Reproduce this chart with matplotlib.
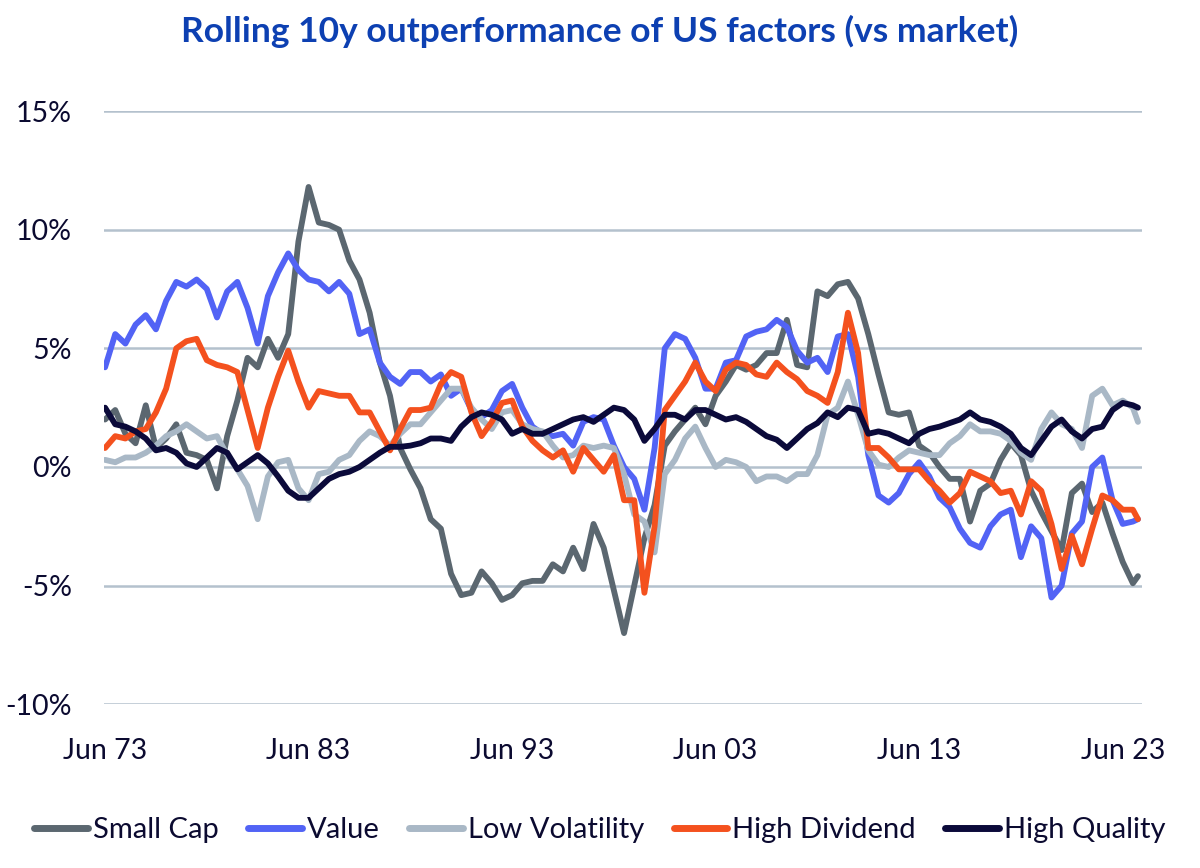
import matplotlib
matplotlib.use("Agg")
import matplotlib.pyplot as plt

plt.rcParams['font.family'] = ['Lato', 'DejaVu Sans']

# semiannual observation dates (fractional years), last point = latest month
years = [1973.5 + 0.5 * i for i in range(102)] + [2024.25]

tick_years = [1973.5, 1983.5, 1993.5, 2003.5, 2013.5, 2023.5]
tick_labels = ["Jun 73", "Jun 83", "Jun 93", "Jun 03", "Jun 13", "Jun 23"]
y_ticks = [-10, -5, 0, 5, 10, 15]
y_labels = ["-10%", "-5%", "0%", "5%", "10%", "15%"]

small_cap = [
    2.0, 2.4, 1.4, 1.0, 2.6, 0.8, 1.2, 1.8, 0.6, 0.5,
    0.3, -0.9, 1.3, 2.8, 4.6, 4.2, 5.4, 4.6, 5.6, 9.5,
    11.8, 10.3, 10.2, 10.0, 8.7, 7.9, 6.5, 4.4, 3.0, 0.8,
    -0.1, -0.9, -2.2, -2.6, -4.5, -5.4, -5.3, -4.4, -4.9, -5.6,
    -5.4, -4.9, -4.8, -4.8, -4.1, -4.4, -3.4, -4.3, -2.4, -3.4,
    -5.2, -7.0, -5.0, -3.0, -1.6, 0.9, 1.5, 2.0, 2.5, 1.8,
    3.0, 3.6, 4.3, 4.1, 4.3, 4.8, 4.8, 6.2, 4.3, 4.2,
    7.4, 7.2, 7.7, 7.8, 7.1, 5.6, 3.9, 2.3, 2.2, 2.3,
    0.9, 0.6, 0.0, -0.5, -0.5, -2.3, -1.0, -0.7, 0.3, 1.0,
    0.5, -1.0, -1.9, -2.7, -3.5, -1.1, -0.7, -1.9, -1.5, -2.8,
    -4.0, -4.9, -4.6,
]

value = [
    4.2, 5.6, 5.2, 6.0, 6.4, 5.8, 7.0, 7.8, 7.6, 7.9,
    7.5, 6.3, 7.4, 7.8, 6.7, 5.2, 7.2, 8.2, 9.0, 8.3,
    7.9, 7.8, 7.4, 7.8, 7.3, 5.6, 5.8, 4.4, 3.8, 3.5,
    4.0, 4.0, 3.6, 3.9, 3.0, 3.3, 2.4, 2.1, 2.4, 3.2,
    3.5, 2.5, 1.7, 1.4, 1.3, 1.4, 0.9, 1.9, 2.1, 2.0,
    0.9, 0.0, -0.5, -1.8, 0.8, 5.0, 5.6, 5.4, 4.6, 3.3,
    3.3, 4.4, 4.5, 5.5, 5.7, 5.8, 6.2, 5.9, 4.9, 4.4,
    4.6, 4.0, 5.5, 5.6, 3.8, 0.5, -1.2, -1.5, -1.1, -0.3,
    0.2, -0.4, -1.3, -1.7, -2.6, -3.2, -3.4, -2.5, -2.0, -1.8,
    -3.8, -2.5, -3.0, -5.5, -5.0, -2.8, -2.3, 0.0, 0.4, -1.4,
    -2.4, -2.3, -2.2,
]

low_vol = [
    0.3, 0.2, 0.4, 0.4, 0.6, 0.9, 1.3, 1.5, 1.8, 1.5,
    1.2, 1.3, 0.5, -0.1, -0.8, -2.2, -0.4, 0.2, 0.3, -0.9,
    -1.4, -0.3, -0.2, 0.3, 0.5, 1.1, 1.5, 1.3, 0.9, 1.4,
    1.8, 1.8, 2.3, 2.8, 3.3, 3.3, 2.5, 2.0, 1.6, 2.3,
    2.4, 1.8, 1.6, 1.5, 0.9, 0.4, 0.5, 0.9, 0.8, 0.9,
    0.8, -0.3, -2.0, -2.3, -3.6, -0.3, 0.3, 1.2, 1.7, 0.8,
    0.0, 0.3, 0.2, 0.0, -0.6, -0.4, -0.4, -0.6, -0.3, -0.3,
    0.5, 2.2, 2.5, 3.6, 2.2, 0.7, 0.1, 0.0, 0.4, 0.7,
    0.6, 0.5, 0.5, 1.0, 1.3, 1.8, 1.5, 1.5, 1.4, 1.1,
    0.6, 0.3, 1.6, 2.3, 1.8, 1.6, 0.8, 3.0, 3.3, 2.6,
    2.8, 2.5, 1.9,
]

high_div = [
    0.8, 1.3, 1.2, 1.5, 1.6, 2.3, 3.3, 5.0, 5.3, 5.4,
    4.5, 4.3, 4.2, 4.0, 2.4, 0.8, 2.5, 3.8, 4.9, 3.6,
    2.5, 3.2, 3.1, 3.0, 3.0, 2.3, 2.3, 1.5, 0.7, 1.6,
    2.4, 2.4, 2.5, 3.5, 4.0, 3.8, 2.3, 1.3, 1.9, 2.7,
    2.8, 1.7, 1.1, 0.7, 0.4, 0.7, -0.2, 0.8, 0.3, -0.2,
    0.5, -1.4, -1.4, -5.3, -2.5, 2.4, 3.0, 3.6, 4.4, 3.6,
    3.2, 4.1, 4.4, 4.3, 3.9, 3.8, 4.4, 4.0, 3.7, 3.2,
    3.0, 2.7, 4.0, 6.5, 4.8, 0.8, 0.8, 0.4, -0.1, -0.1,
    -0.1, -0.6, -1.0, -1.5, -1.1, -0.2, -0.4, -0.6, -1.1, -1.0,
    -2.0, -0.6, -1.0, -2.4, -4.3, -2.9, -4.1, -2.6, -1.2, -1.4,
    -1.8, -1.8, -2.2,
]

high_quality = [
    2.5, 1.8, 1.7, 1.5, 1.2, 0.7, 0.8, 0.6, 0.15, 0.0,
    0.4, 0.8, 0.6, -0.1, 0.2, 0.5, 0.15, -0.4, -1.0, -1.3,
    -1.3, -0.9, -0.5, -0.3, -0.2, 0.0, 0.3, 0.6, 0.85, 0.85,
    0.9, 1.0, 1.2, 1.2, 1.1, 1.7, 2.1, 2.3, 2.2, 2.0,
    1.4, 1.6, 1.4, 1.4, 1.6, 1.8, 2.0, 2.1, 1.9, 2.2,
    2.5, 2.4, 2.0, 1.1, 1.6, 2.2, 2.2, 2.0, 2.4, 2.4,
    2.2, 2.0, 2.1, 1.9, 1.6, 1.3, 1.15, 0.8, 1.2, 1.6,
    1.85, 2.3, 2.1, 2.5, 2.4, 1.4, 1.5, 1.4, 1.2, 1.0,
    1.4, 1.6, 1.7, 1.85, 2.0, 2.3, 2.0, 1.9, 1.7, 1.4,
    0.8, 0.5, 1.1, 1.7, 2.0, 1.5, 1.2, 1.6, 1.7, 2.4,
    2.7, 2.6, 2.5,
]

series = [
    ("Small Cap", small_cap, "#5B6770"),
    ("Value", value, "#5263F5"),
    ("Low Volatility", low_vol, "#A9B8C6"),
    ("High Dividend", high_div, "#F4511E"),
    ("High Quality", high_quality, "#0B0A3A"),
]

text_color = "#0B0A30"

fig = plt.figure(figsize=(12, 8.68), dpi=100)
ax = fig.add_axes([0.0867, 0.1886, 0.8650, 0.6835])

for name, vals, col in series:
    ax.plot(years, vals, color=col, lw=4.2, label=name,
            solid_joinstyle='round', solid_capstyle='round')

ax.set_xlim(1973.45, 2024.45)
ax.set_ylim(-10, 15)
ax.set_yticks(y_ticks)
ax.set_yticklabels(y_labels)
ax.set_xticks(tick_years)
ax.set_xticklabels(tick_labels)
ax.grid(axis='y', color="#B4C1CD", lw=1.8)
ax.set_axisbelow(True)
for s in ax.spines.values():
    s.set_visible(False)
ax.tick_params(axis='both', length=0, labelsize=20.5, colors=text_color)
ax.tick_params(axis='y', pad=23)
ax.tick_params(axis='x', pad=24)

fig.suptitle("Rolling 10y outperformance of US factors (vs market)",
             x=0.5, y=0.983, fontsize=25.5, fontweight='bold', color="#0D40B2")

leg = fig.legend(loc='center', bbox_to_anchor=(0.5, 0.044), ncol=5, frameon=False,
                 fontsize=21, handlelength=1.85, handletextpad=0.17, columnspacing=1.0)
for t in leg.get_texts():
    t.set_color(text_color)
for h in leg.get_lines():
    h.set_linewidth(5)
    h.set_solid_capstyle('round')

fig.savefig("out.png", dpi=100)
